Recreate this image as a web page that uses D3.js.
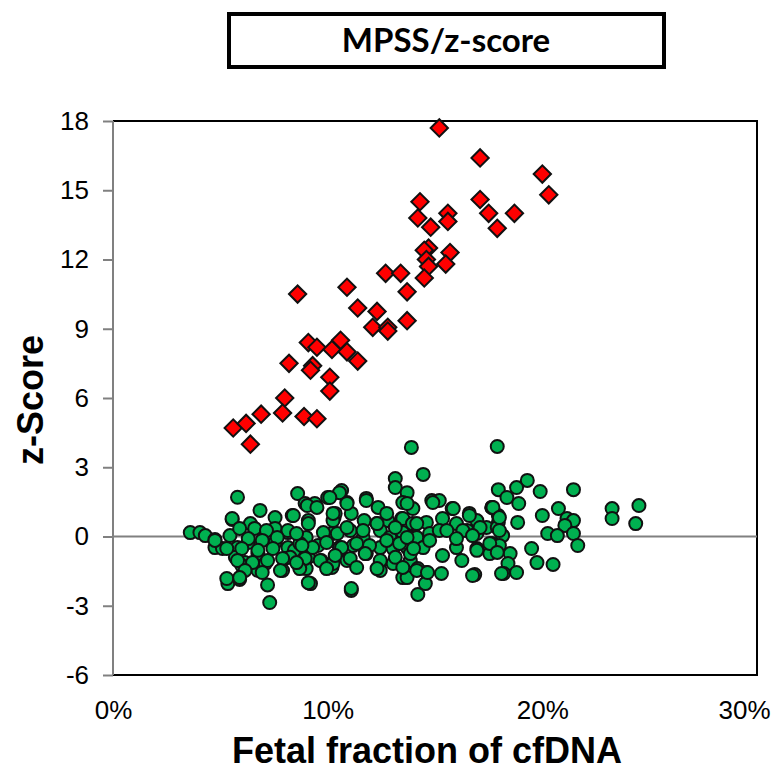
<!DOCTYPE html>
<html>
<head>
<meta charset="utf-8">
<script src="https://cdn.jsdelivr.net/npm/d3@7"></script>
<style>
  body { margin: 0; background: #fff; }
  svg { display: block; }
</style>
</head>
<body>
<svg class="chart"></svg>
<script>
// DATA /////////////////////////////////////////
const title = "MPSS/z-score";
const xLabel = "Fetal fraction of cfDNA";
const yLabel = "z-Score";
const xTicks = [0, 10, 20, 30];
const yTicks = [-6, -3, 0, 3, 6, 9, 12, 15, 18];

// affected pregnancies (fetal fraction %, z-score)
const affected = [
  [15.2, 17.7], [17.1, 16.4], [20.0, 15.7], [20.3, 14.8], [14.3, 14.5],
  [17.1, 14.6], [15.6, 14.0], [17.5, 14.0], [18.7, 14.0], [14.2, 13.8],
  [15.6, 13.65], [14.8, 13.4], [17.9, 13.35], [14.7, 12.5], [14.5, 12.4],
  [15.7, 12.3], [14.6, 12.0], [15.5, 11.8], [14.7, 11.7], [14.5, 11.2],
  [12.7, 11.4], [13.4, 11.4], [13.7, 10.6], [8.6, 10.5], [10.9, 10.8],
  [11.4, 9.9], [12.3, 9.75], [13.7, 9.35], [12.1, 9.06], [12.8, 9.06],
  [12.8, 8.9], [9.1, 8.4], [9.5, 8.2], [10.2, 8.1], [10.6, 8.5],
  [10.9, 8.0], [11.4, 7.6], [8.2, 7.5], [9.3, 7.4], [9.2, 7.2],
  [10.1, 6.9], [10.1, 6.3], [8.0, 6.0], [6.9, 5.3], [7.9, 5.35],
  [8.9, 5.2], [9.5, 5.1], [5.6, 4.7], [6.2, 4.9], [6.4, 4.0]
];

// unaffected pregnancies (fetal fraction %, z-score)
const unaffected = [
  [3.6, 0.17], [4.05, 0.17], [4.3, 0.04], [4.75, -0.13], [4.75, -0.48],
  [5.8, 1.7], [6.85, 1.13], [5.55, 0.74], [5.45, 0.04], [6.4, 0.56],
  [7.55, 0.82], [8.6, 1.86], [8.35, 0.91], [5.35, -2.04], [5.9, -1.86],
  [7.2, -2.1], [7.3, -2.86], [9.2, -2.04], [5.8, -0.48], [5.7, -0.9],
  [6.15, -1.13], [6.75, -0.74], [6.75, -1.47], [7.9, -1.47], [7.1, -0.04],
  [7.55, -0.26], [8.15, 0.17], [8.15, -0.48], [8.0, -0.95], [9.0, -0.04],
  [9.1, -0.9], [9.0, -1.39], [8.95, 1.43], [9.4, 1.43], [9.1, 0.69],
  [9.55, -0.39], [9.7, -1.04], [10.0, 1.69], [10.3, 0.82], [10.2, 0.13],
  [10.2, -1.34], [5.1, -0.52], [6.3, -0.26], [6.6, 0.35], [8.45, -0.6],
  [7.55, 0.35], [6.0, -1.26], [7.1, -1.17],
  [13.9, 3.86], [14.45, 2.69], [13.15, 2.51], [13.15, 2.12], [13.7, 1.9],
  [13.5, 1.47], [13.97, 1.21], [14.85, 1.56], [15.2, 1.56], [10.65, 1.99],
  [10.9, 1.47], [11.8, 1.65], [12.35, 1.26], [15.8, 1.21], [16.6, 1.0],
  [17.65, 1.26], [10.35, 1.0], [11.1, 1.0], [11.7, 0.69], [12.3, 0.56],
  [12.8, 0.69], [13.45, 0.78], [14.05, 0.48], [14.6, 0.61], [15.35, 0.78],
  [16.0, 0.56], [16.95, 0.69], [17.4, 0.39], [10.45, 0.13], [11.05, 0.26],
  [11.65, -0.04], [12.45, 0.26], [12.9, -0.04], [13.5, 0.17], [14.15, -0.04],
  [14.75, 0.13], [15.2, 0.26], [16.5, 0.26], [16.95, 0.13], [10.55, -0.48],
  [11.2, -0.39], [11.8, -0.74], [12.45, -0.48], [13.05, -0.52], [13.7, -0.48],
  [14.45, -0.48], [15.35, -0.82], [16.0, -0.48], [16.95, -0.52], [16.25, -1.04],
  [10.9, -1.04], [12.45, -1.13], [13.05, -1.17], [13.85, -1.04], [12.45, -1.47],
  [13.5, -1.78], [14.2, -1.39], [14.6, -1.56], [15.3, -1.6], [14.55, -2.04],
  [14.2, -2.51], [16.85, -1.65], [11.1, -2.34], [10.25, -1.17], [10.25, 0.69],
  [17.9, 3.9], [19.3, 2.43], [18.8, 2.12], [17.95, 2.03], [19.9, 1.95],
  [21.45, 2.03], [18.35, 1.69], [18.9, 1.43], [17.65, 1.26], [17.95, 0.91],
  [17.95, 0.61], [18.85, 0.61], [20.0, 0.91], [20.75, 1.21], [21.15, 0.78],
  [21.45, 0.69], [23.25, 1.21], [23.25, 0.78], [24.5, 1.34], [24.35, 0.56],
  [21.05, 0.48], [20.25, 0.13], [20.7, 0.04], [21.45, 0.13], [21.65, -0.39],
  [19.5, -0.52], [19.75, -1.13], [20.5, -1.21], [18.15, 0.04], [17.65, -0.3],
  [18.0, -0.39], [18.5, -0.74], [17.55, -0.74], [18.4, -1.17], [18.2, -1.6],
  [18.8, -1.56], [17.9, 0.39],
  [10.55, 1.9], [10.1, 1.69], [11.8, 1.56], [9.05, 1.34], [9.5, 1.26],
  [10.9, 1.43], [8.4, 0.91], [10.25, 1.0], [12.75, 1.0], [13.5, 0.78],
  [8.15, 0.26], [9.1, 0.56], [9.8, 0.17], [10.9, 0.39], [11.65, 0.26],
  [12.3, 0.56], [13.15, 0.39], [13.95, 0.56], [8.7, -0.3], [9.3, -0.48],
  [9.95, -0.26], [10.65, -0.48], [11.35, -0.3], [11.95, -0.39], [12.75, -0.17],
  [13.35, -0.3], [8.25, -0.9], [8.95, -0.95], [9.65, -1.04], [10.35, -0.82],
  [11.05, -0.95], [11.75, -0.74], [12.45, -1.04], [13.15, -0.9], [13.85, -0.74],
  [8.7, -1.39], [9.95, -1.39], [11.35, -1.34], [12.3, -1.39], [13.7, -1.78],
  [9.1, -2.0], [11.1, -2.25],
  [5.55, 0.78], [5.9, 0.35], [7.15, 0.26], [6.3, -0.09], [6.95, -0.17],
  [7.65, -0.04], [8.55, 0.13], [4.75, -0.17], [5.3, -0.52], [6.0, -0.52],
  [6.75, -0.6], [7.45, -0.52], [8.8, -0.39], [5.8, -1.04], [6.5, -1.13],
  [7.2, -1.04], [7.9, -0.95], [8.55, -1.13], [6.15, -1.47], [6.95, -1.56],
  [7.8, -1.47], [5.3, -1.82], [5.9, -1.78],
  [14.9, 1.47], [15.85, 1.21], [16.6, 0.91], [17.7, 1.26], [13.7, 1.43],
  [14.15, 0.56], [15.55, 0.26], [16.3, 0.26], [17.1, 0.39], [18.0, 0.82],
  [18.0, 0.26], [13.7, -0.04], [14.75, -0.17], [16.0, -0.09], [16.75, 0.04],
  [17.55, -0.3], [14.0, -0.52], [16.95, -0.6], [17.9, -0.69], [13.5, -1.34],
  [14.15, -1.47], [14.65, -1.56], [16.75, -1.69], [18.1, -1.6]
];

// LAYOUT ///////////////////////////////////////
const W = 773;
const H = 774;
const margin = { top: 121, right: 16, bottom: 99, left: 113 };
const width = W - margin.left - margin.right;
const height = H - margin.top - margin.bottom;

const svg = d3.select(".chart").attr("width", W).attr("height", H);

const x = d3.scaleLinear().domain([0, 30]).range([0, width]);
const y = d3.scaleLinear().domain([-6, 18]).range([height, 0]);

// title box
svg.append("rect")
  .attr("x", 229).attr("y", 14)
  .attr("width", 435).attr("height", 53)
  .attr("fill", "#fff")
  .attr("stroke", "#000")
  .attr("stroke-width", 4);

svg.append("text")
  .attr("x", 446).attr("y", 52)
  .attr("text-anchor", "middle")
  .style("font-family", "Lato, 'Open Sans', sans-serif")
  .style("font-weight", "bold")
  .style("font-size", "33px")
  .text(title);

const chart = svg.append("g")
  .attr("transform", `translate(${margin.left}, ${margin.top})`);

// frame: top, right, bottom black
chart.append("path")
  .attr("d", `M0,0H${width}V${height}H0`)
  .attr("fill", "none")
  .attr("stroke", "#000")
  .attr("stroke-width", 2);

// zero line
chart.append("line")
  .attr("x1", 0).attr("x2", width)
  .attr("y1", y(0)).attr("y2", y(0))
  .attr("stroke", "#808080")
  .attr("stroke-width", 2);

// y axis (gray)
const yAxis = chart.append("g")
  .call(d3.axisLeft(y).tickValues(yTicks).tickSize(10).tickPadding(14)
    .tickFormat((d) => String(d)));
yAxis.select(".domain").attr("stroke", "#808080").attr("stroke-width", 2)
  .attr("d", `M0,0V${height}`);
yAxis.selectAll(".tick line").attr("stroke", "#808080").attr("stroke-width", 2);
yAxis.selectAll("text")
  .attr("fill", "#000")
  .style("font-family", "Arial, 'Liberation Sans', sans-serif")
  .style("font-size", "26px");

// x axis labels only
const xAxis = chart.append("g")
  .attr("transform", `translate(0, ${height})`)
  .call(d3.axisBottom(x).tickValues(xTicks).tickSize(0).tickPadding(26)
    .tickFormat((d) => d + "%"));
xAxis.select(".domain").remove();
xAxis.selectAll("text")
  .attr("fill", "#000")
  .attr("dx", (d) => (d === 30 ? -13 : 0))
  .style("font-family", "Arial, 'Liberation Sans', sans-serif")
  .style("font-size", "26px");

// axis titles
svg.append("text")
  .attr("x", 427).attr("y", 763)
  .attr("text-anchor", "middle")
  .style("font-family", "Arial, 'Liberation Sans', sans-serif")
  .style("font-weight", "bold")
  .style("font-size", "36px")
  .text(xLabel);

svg.append("text")
  .attr("transform", "translate(43, 400) rotate(-90)")
  .attr("text-anchor", "middle")
  .style("font-family", "Arial, 'Liberation Sans', sans-serif")
  .style("font-weight", "bold")
  .style("font-size", "36px")
  .text(yLabel);

// POINTS ///////////////////////////////////////
chart.append("g")
  .selectAll("circle")
  .data(unaffected)
  .join("circle")
  .attr("cx", (d) => x(d[0]))
  .attr("cy", (d) => y(d[1]))
  .attr("r", 6.5)
  .attr("fill", "#00b050")
  .attr("stroke", "#111")
  .attr("stroke-width", 2);

const diamond = d3.symbol().type(d3.symbolSquare).size(150);
chart.append("g")
  .selectAll("path")
  .data(affected)
  .join("path")
  .attr("d", diamond)
  .attr("transform", (d) => `translate(${x(d[0])}, ${y(d[1])}) rotate(45)`)
  .attr("fill", "#ff0000")
  .attr("stroke", "#111")
  .attr("stroke-width", 2);
</script>
</body>
</html>
